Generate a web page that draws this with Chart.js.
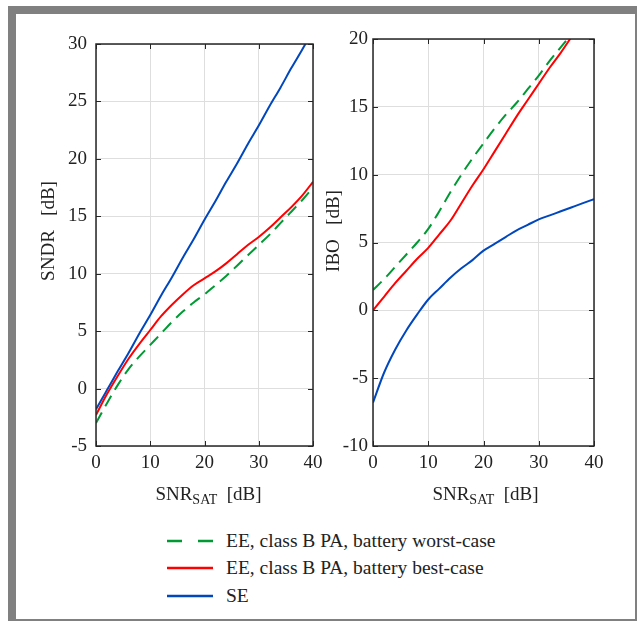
<!DOCTYPE html>
<html>
<head>
<meta charset="utf-8">
<script src="https://cdn.jsdelivr.net/npm/chart.js@4"></script>
<style>
  body { margin: 0; background: #fff; width: 637px; height: 621px; overflow: hidden; position: relative;
         font-family: "Liberation Serif", "Times New Roman", Times, Tinos, "Noto Serif", "DejaVu Serif", FreeSerif, serif; color: #222; }
  #frame { position: absolute; left: 8px; top: 6px; width: 629px; height: 615px; box-sizing: border-box;
           border-style: solid; border-color: #808080; border-width: 8px 2px 2px 8px; }
  canvas { position: absolute; top: 0; }
  #legend { position: absolute; left: 167px; top: 527px; font-size: 19.5px; }
  #legend .row { height: 27.5px; display: flex; align-items: center; }
  #legend svg { width: 46px; height: 4px; margin-right: 13px; }
</style>
</head>
<body>
<div id="frame"></div>
<canvas id="left" width="335" height="520" style="left:0"></canvas>
<canvas id="right" width="317" height="520" style="left:320px"></canvas>
<div id="legend">
  <div class="row"><svg><line x1="0" y1="2" x2="46" y2="2" stroke="#009933" stroke-width="2.5" stroke-dasharray="15,16"/></svg>EE, class B PA, battery worst-case</div>
  <div class="row"><svg><line x1="0" y1="2" x2="46" y2="2" stroke="#ff0000" stroke-width="2.5"/></svg>EE, class B PA, battery best-case</div>
  <div class="row"><svg><line x1="0" y1="2" x2="46" y2="2" stroke="#0047be" stroke-width="2.5"/></svg>SE</div>
</div>
<script>
// SNR_SAT grid shared by all curves (dB)
var snrSat = [0, 2, 4, 6, 8, 10, 12, 14, 16, 18, 20, 22, 24, 26, 28, 30, 32, 34, 36, 38, 40];

// left panel: SNDR [dB]
var sndrWorst = [-3.0, -1.3, 0.3, 1.7, 2.8, 3.8, 4.8, 5.8, 6.7, 7.5, 8.2, 9.0, 9.8, 10.7, 11.6, 12.5, 13.4, 14.4, 15.4, 16.4, 17.5];
var sndrBest  = [-2.3, -0.5, 1.1, 2.6, 3.9, 5.1, 6.3, 7.3, 8.2, 9.0, 9.6, 10.2, 10.9, 11.7, 12.5, 13.2, 14.0, 14.9, 15.8, 16.8, 18.0];
var sndrSE    = [-1.8, -0.15, 1.5, 3.1, 4.8, 6.4, 8.1, 9.7, 11.4, 13.0, 14.7, 16.3, 18.0, 19.6, 21.3, 22.9, 24.6, 26.2, 27.9, 29.5, 31.2];

// right panel: IBO [dB]
var iboWorst = [1.5, 2.3, 3.2, 4.1, 5.0, 6.0, 7.3, 8.7, 10.0, 11.2, 12.3, 13.4, 14.4, 15.3, 16.3, 17.3, 18.4, 19.4, 20.4, 21.4, 22.4];
var iboBest  = [0.0, 1.0, 2.0, 2.9, 3.8, 4.6, 5.6, 6.6, 7.9, 9.2, 10.4, 11.7, 13.0, 14.3, 15.5, 16.7, 17.9, 19.0, 20.2, 21.4, 22.5];
var iboSE    = [-6.8, -4.6, -2.9, -1.5, -0.3, 0.8, 1.6, 2.4, 3.1, 3.7, 4.4, 4.9, 5.4, 5.9, 6.3, 6.7, 7.0, 7.3, 7.6, 7.9, 8.2];

var sndrRange = [-5, 30], iboRange = [-10, 20], xRange = [0, 40];

var FONT = '"Liberation Serif", "Times New Roman", Times, Tinos, "Noto Serif", "DejaVu Serif", FreeSerif, serif';
var INK = '#222';
var FS = 19;

function pts(ys) { return ys.map(function (y, i) { return { x: snrSat[i], y: y }; }); }

// MATLAB-like box, inward ticks on all sides and the axis labels (with subscript)
var boxPlugin = {
  id: 'box',
  afterDraw: function (chart, args, o) {
    var ctx = chart.ctx, a = chart.chartArea, sx = chart.scales.x, sy = chart.scales.y;
    ctx.save();
    ctx.strokeStyle = '#262626'; ctx.lineWidth = 1;
    sx.ticks.forEach(function (t) {
      var p = Math.round(sx.getPixelForValue(t.value)) + 0.5;
      ctx.beginPath(); ctx.moveTo(p, a.bottom); ctx.lineTo(p, a.bottom - 5);
      ctx.moveTo(p, a.top); ctx.lineTo(p, a.top + 5); ctx.stroke();
    });
    sy.ticks.forEach(function (t) {
      var p = Math.round(sy.getPixelForValue(t.value)) + 0.5;
      ctx.beginPath(); ctx.moveTo(a.left, p); ctx.lineTo(a.left + 5, p);
      ctx.moveTo(a.right, p); ctx.lineTo(a.right - 5, p); ctx.stroke();
    });
    ctx.lineWidth = 1.5;
    ctx.strokeRect(a.left, a.top, a.right - a.left, a.bottom - a.top);

    ctx.fillStyle = INK; ctx.textBaseline = 'alphabetic';
    // y title
    ctx.save();
    ctx.translate(o.yTitleX, o.yTitleY); ctx.rotate(-Math.PI / 2);
    ctx.font = FS + 'px ' + FONT; ctx.textAlign = 'center';
    ctx.fillText(o.yTitle, 0, 7);
    ctx.restore();
    // x title: SNR_SAT  [dB]
    ctx.textAlign = 'left';
    ctx.font = FS + 'px ' + FONT; var w1 = ctx.measureText('SNR').width, w3 = ctx.measureText('  [dB]').width;
    ctx.font = '14px ' + FONT; var w2 = ctx.measureText('SAT').width;
    var x0 = (a.left + a.right) / 2 + (o.xTitleShift || 0) - (w1 + w2 + w3) / 2;
    ctx.font = FS + 'px ' + FONT; ctx.fillText('SNR', x0, o.xTitleY);
    ctx.font = '14px ' + FONT; ctx.fillText('SAT', x0 + w1, o.xTitleY + 4);
    ctx.font = FS + 'px ' + FONT; ctx.fillText('  [dB]', x0 + w1 + w2, o.xTitleY);
    ctx.restore();
  }
};

function makeChart(id, worst, best, se, yr, axisW, pad, yPad, boxOpts) {
  return new Chart(document.getElementById(id), {
    type: 'line',
    data: {
      datasets: [
        { label: 'EE, class B PA, battery worst-case', data: pts(worst), borderColor: '#009933', borderDash: [12, 7], borderWidth: 2 },
        { label: 'EE, class B PA, battery best-case', data: pts(best), borderColor: '#ff0000', borderWidth: 2 },
        { label: 'SE', data: pts(se), borderColor: '#0047be', borderWidth: 2 }
      ]
    },
    options: {
      responsive: false, animation: false,
      elements: { point: { radius: 0 }, line: { tension: 0, cubicInterpolationMode: 'monotone' } },
      layout: { padding: pad },
      plugins: { legend: { display: false }, tooltip: { enabled: false }, box: boxOpts },
      scales: {
        x: {
          type: 'linear', min: xRange[0], max: xRange[1],
          ticks: { stepSize: 10, padding: 6, color: INK, font: { family: FONT, size: FS }, maxRotation: 0 },
          grid: { color: '#dedede', drawTicks: false },
          border: { display: false },
          afterFit: function (s) { s.height = 74; }
        },
        y: {
          min: yr[0], max: yr[1],
          ticks: { stepSize: 5, padding: yPad, color: INK, font: { family: FONT, size: FS } },
          grid: { color: '#dedede', drawTicks: false },
          border: { display: false },
          afterFit: function (s) { s.width = axisW; }
        }
      }
    },
    plugins: [boxPlugin]
  });
}

makeChart('left', sndrWorst, sndrBest, sndrSE, sndrRange, 96, { left: 0, right: 22, top: 44, bottom: 0 }, 9,
  { yTitle: 'SNDR   [dB]', yTitleX: 47, yTitleY: 231, xTitleY: 500, xTitleShift: 4 });
makeChart('right', iboWorst, iboBest, iboSE, iboRange, 53, { left: 0, right: 43, top: 39, bottom: 0 }, 5,
  { yTitle: 'IBO   [dB]', yTitleX: 12, yTitleY: 231, xTitleY: 500, xTitleShift: 2 });
</script>
</body>
</html>
